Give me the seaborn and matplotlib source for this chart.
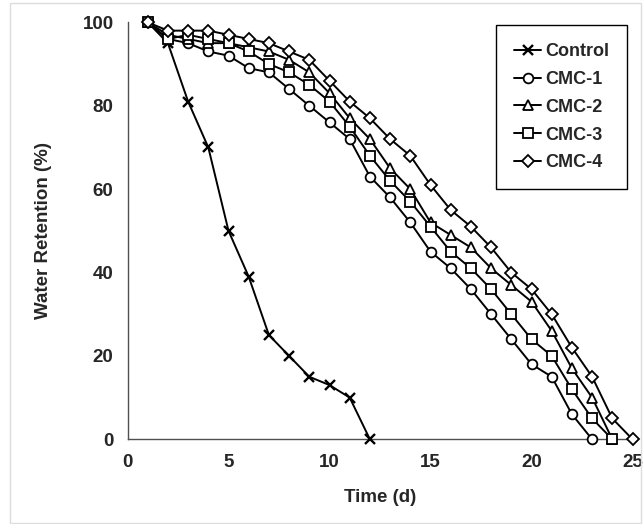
import matplotlib
matplotlib.use("Agg")
import matplotlib.pyplot as plt
from matplotlib.patches import Rectangle
from matplotlib.ticker import MultipleLocator
import seaborn as sns
import numpy as np

# ---- data ----
series_names = ["Control", "CMC-1", "CMC-2", "CMC-3", "CMC-4"]
days_control = list(range(1, 13))
control = [100, 95, 81, 70, 50, 39, 25, 20, 15, 13, 10, 0]
days_cmc1 = list(range(1, 24))
cmc1 = [100, 96, 95, 93, 92, 89, 88, 84, 80, 76, 72, 63, 58, 52, 45, 41, 36, 30, 24, 18, 15, 6, 0]
days_cmc2 = list(range(1, 25))
cmc2 = [100, 97, 96, 95, 95, 94, 93, 91, 88, 83, 77, 72, 65, 60, 52, 49, 46, 41, 37, 33, 26, 17, 10, 0]
days_cmc3 = list(range(1, 25))
cmc3 = [100, 96, 97, 96, 95, 93, 90, 88, 85, 81, 75, 68, 62, 57, 51, 45, 41, 36, 30, 24, 20, 12, 5, 0]
days_cmc4 = list(range(1, 26))
cmc4 = [100, 98, 98, 98, 97, 96, 95, 93, 91, 86, 81, 77, 72, 68, 61, 55, 51, 46, 40, 36, 30, 22, 15, 5, 0]
x_ticks = [0, 5, 10, 15, 20, 25]
y_ticks = [0, 20, 40, 60, 80, 100]

sns.set_style("white")
plt.rcParams['font.family'] = ['Liberation Sans', 'DejaVu Sans']
plt.rcParams['font.weight'] = 'bold'

fig = plt.figure(figsize=(6.43, 5.24), dpi=100)
ax = fig.add_axes([127.5 / 643, 1 - 439.3 / 524, 505 / 643, 417 / 524])

xs = [days_control, days_cmc1, days_cmc2, days_cmc3, days_cmc4]
ys = [control, cmc1, cmc2, cmc3, cmc4]
markers = ["x", "o", "^", "s", "D"]
msizes = [6.5, 7, 7, 7.5, 6]

for name, x, y, m, ms in zip(series_names, xs, ys, markers, msizes):
    sns.lineplot(x=x, y=y, ax=ax, color="black", marker=m, markersize=ms,
                 mfc="white", mec="black", mew=1.3 if m != "x" else 1.7,
                 lw=1.4, label=name, clip_on=False, zorder=3)

ax.set_xlim(0, 25)
ax.set_ylim(0, 100)
ax.set_xticks(x_ticks)
ax.set_yticks(y_ticks)
ax.xaxis.set_minor_locator(MultipleLocator(2.5))
ax.yaxis.set_minor_locator(MultipleLocator(10))

for s in ["top", "right"]:
    ax.spines[s].set_visible(False)
for s in ["left", "bottom"]:
    ax.spines[s].set_color("#505050")
    ax.spines[s].set_linewidth(1.0)

ax.tick_params(axis="x", which="both", direction="inout", length=7, width=1,
               color="#505050", pad=7, labelsize=13.5)
ax.tick_params(axis="y", which="both", direction="out", length=4, width=1,
               color="#505050", pad=6, labelsize=13.5)
for lab in ax.get_xticklabels() + ax.get_yticklabels():
    lab.set_fontweight("bold")

ax.set_xlabel("Time (d)", fontsize=13.5, fontweight="bold", labelpad=13)
ax.set_ylabel("Water Retention (%)", fontsize=13.5, fontweight="bold", labelpad=22)

leg = ax.legend(loc="upper right", bbox_to_anchor=(0.989, 0.9935), borderaxespad=0,
                frameon=True, fancybox=False, framealpha=1, edgecolor="black",
                prop={"weight": "bold", "size": 13}, handlelength=1.5,
                handletextpad=0.2, borderpad=1.0, labelspacing=0.6)
leg.get_frame().set_linewidth(1.0)

fig.patches.append(Rectangle((10 / 643, 1 - 523 / 524), 631 / 643, 520 / 524,
                             transform=fig.transFigure, fill=False,
                             edgecolor="#dcdcdc", lw=1))

fig.savefig("out.png", dpi=100)
